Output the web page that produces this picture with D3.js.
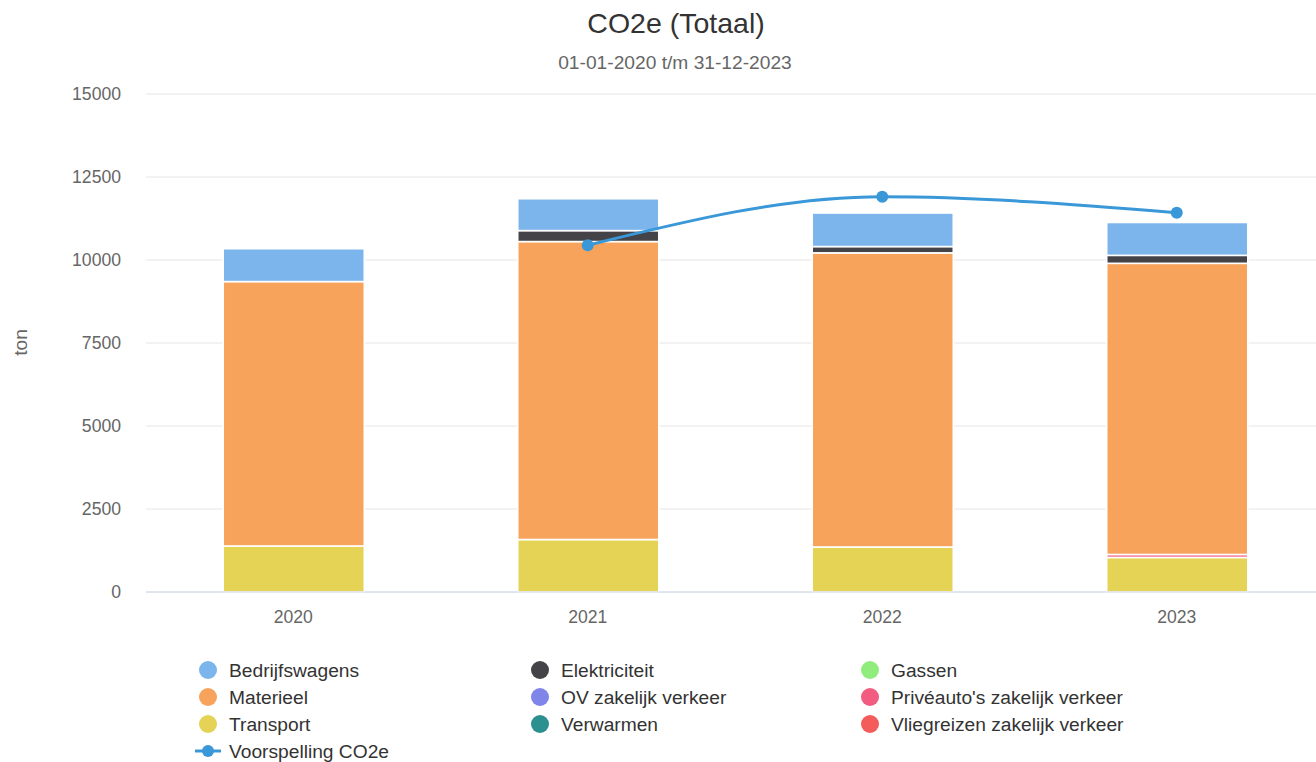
<!DOCTYPE html>
<html>
<head>
<meta charset="utf-8">
<script src="https://cdn.jsdelivr.net/npm/d3@7"></script>
<style>
  body { margin: 0; background: #fff; overflow: hidden; }
  svg { display: block; font-family: "Liberation Sans", Arial, sans-serif; }
</style>
</head>
<body>
<script>
// data
const years = ['2020', '2021', '2022', '2023']
const seriesNames = ['Bedrijfswagens', 'Elektriciteit', 'Gassen', 'Materieel', 'OV zakelijk verkeer',
  "Privéauto's zakelijk verkeer", 'Transport', 'Verwarmen', 'Vliegreizen zakelijk verkeer']
const seriesColors = ['#7cb5ec', '#434348', '#90ed7d', '#f7a35c', '#8085e9', '#f15c80', '#e4d354', '#2b908f', '#f45b5b']
const bedrijfswagens = [990, 960, 1010, 990]
const elektriciteit = [0, 330, 190, 240]
const gassen = [0, 0, 0, 0]
const materieel = [7965, 8975, 8860, 8770]
const ovZakelijk = [0, 0, 0, 0]
const priveauto = [0, 0, 0, 90]
const transport = [1385, 1580, 1355, 1040]
const verwarmen = [0, 0, 0, 0]
const vliegreizen = [0, 0, 0, 0]
const forecast = [null, 10430, 11890, 11410]
const yTicks = [0, 2500, 5000, 7500, 10000, 12500, 15000]

const seriesValues = [bedrijfswagens, elektriciteit, gassen, materieel, ovZakelijk, priveauto, transport, verwarmen, vliegreizen]

const W = 1316
const H = 762
const plot = { left: 146, right: 1324, top: 93.5, bottom: 591.5 }

const svg = d3.select('body').append('svg').attr('width', W).attr('height', H)

// title
svg.append('text').attr('x', 676).attr('y', 33).attr('text-anchor', 'middle')
  .attr('font-size', 28.5).attr('fill', '#333').text('CO2e (Totaal)')
svg.append('text').attr('x', 675).attr('y', 68.5).attr('text-anchor', 'middle')
  .attr('font-size', 19.2).attr('fill', '#666').text('01-01-2020 t/m 31-12-2023')

const x = d3.scaleBand().domain(years).range([plot.left, plot.right])
  .paddingInner(0.521).paddingOuter(0.2605)
const y = d3.scaleLinear().domain([0, 15000]).range([plot.bottom, plot.top])

// grid + y labels
const yAxis = svg.append('g').attr('transform', `translate(${plot.left},0)`)
  .call(d3.axisLeft(y).tickValues(yTicks).tickFormat(d3.format('d')).tickSize(-(W - plot.left)).tickPadding(25))
yAxis.select('.domain').remove()
yAxis.selectAll('.tick line').attr('stroke', '#e6e6e6')
yAxis.selectAll('.tick text').attr('fill', '#666').attr('font-size', 17.6)
  .attr('font-family', '"Liberation Sans", Arial, sans-serif').attr('dy', '0.35em')

svg.append('text').attr('transform', `translate(27,${(plot.top + plot.bottom) / 2}) rotate(-90)`)
  .attr('text-anchor', 'middle').attr('font-size', 19.2).attr('fill', '#666').text('ton')

// stacked bars (first series on top, like the source)
const table = years.map((yr, i) => {
  const row = { year: yr }
  seriesNames.forEach((s, j) => { row[s] = seriesValues[j][i] })
  return row
})
const stack = d3.stack().keys(seriesNames.slice().reverse())(table)

svg.append('g').selectAll('g').data(stack).join('g')
  .attr('fill', d => seriesColors[seriesNames.indexOf(d.key)])
  .selectAll('rect').data(d => d.filter(p => p[1] > p[0])).join('rect')
  .attr('x', d => x(d.data.year) + 0.5)
  .attr('width', x.bandwidth())
  .attr('y', d => y(d[1]) + 0.5)
  .attr('height', d => y(d[0]) - y(d[1]))
  .attr('stroke', '#fff').attr('stroke-width', 1.6)

// x axis line + labels
svg.append('line').attr('x1', plot.left).attr('x2', W).attr('y1', plot.bottom + 0.5).attr('y2', plot.bottom + 0.5)
  .attr('stroke', '#ccd6eb')
svg.append('g').selectAll('text').data(years).join('text')
  .attr('x', d => x(d) + x.bandwidth() / 2).attr('y', 623)
  .attr('text-anchor', 'middle').attr('font-size', 17.6).attr('fill', '#666').text(d => d)

// forecast spline
const fcColor = '#3a98d8'
const fcPoints = years.map((yr, i) => ({ year: yr, v: forecast[i] })).filter(d => d.v !== null)
const line = d3.line().x(d => x(d.year) + x.bandwidth() / 2).y(d => y(d.v)).curve(d3.curveMonotoneX)
svg.append('path').datum(fcPoints).attr('d', line)
  .attr('fill', 'none').attr('stroke', fcColor).attr('stroke-width', 3)
svg.append('g').selectAll('circle').data(fcPoints).join('circle')
  .attr('cx', d => x(d.year) + x.bandwidth() / 2).attr('cy', d => y(d.v))
  .attr('r', 6).attr('fill', fcColor)

// legend, 3 columns
const legendItems = seriesNames.map((s, i) => ({ name: s, color: seriesColors[i], type: 'bar' }))
legendItems.push({ name: 'Voorspelling CO2e', color: fcColor, type: 'line' })
const colX = [208, 540, 870]
const rowY = [670, 697, 724, 751]

const legend = svg.append('g').selectAll('g').data(legendItems).join('g')
  .attr('transform', (d, i) => `translate(${colX[i % 3]},${rowY[Math.floor(i / 3)]})`)
legend.filter(d => d.type === 'bar').append('circle').attr('r', 9).attr('fill', d => d.color)
legend.filter(d => d.type === 'line').append('line')
  .attr('x1', -13).attr('x2', 13).attr('stroke', d => d.color).attr('stroke-width', 3)
legend.filter(d => d.type === 'line').append('circle').attr('r', 6).attr('fill', d => d.color)
legend.append('text').attr('x', 21).attr('y', 6.8)
  .attr('font-size', 19.2).attr('fill', '#333').text(d => d.name)
</script>
</body>
</html>
